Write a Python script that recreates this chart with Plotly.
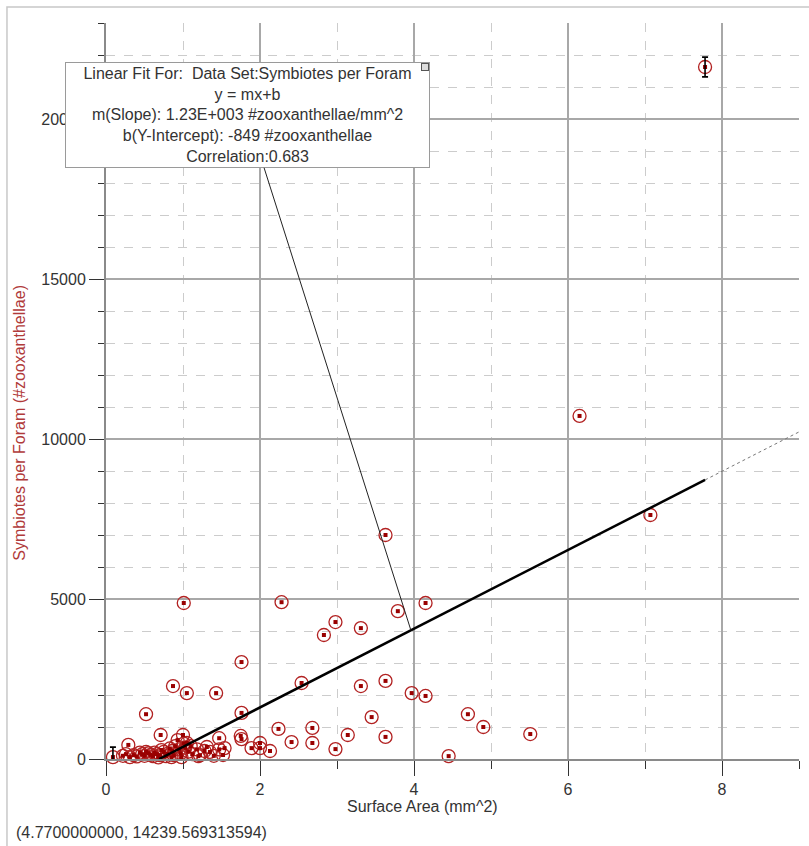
import plotly.graph_objects as go

# ---------------- data ----------------
surface_area = [
    7.78, 6.15, 7.07, 3.63, 1.01, 2.28, 3.79, 4.15, 2.98, 3.31,
    2.83, 1.76, 2.54, 3.31, 3.63, 0.87, 1.43, 1.05, 3.97, 4.15,
    3.45, 4.70, 4.90, 5.51, 4.45, 3.63, 3.14, 2.68, 2.68, 2.41,
    2.24, 2.98, 1.76, 1.75, 1.76, 0.52, 0.71, 0.29, 1.00, 0.93,
    1.05, 1.89, 2.00, 2.00, 2.13, 1.47, 1.54, 1.52, 1.31, 1.35,
    0.09, 0.22, 0.26, 0.31, 0.36, 0.40, 0.44, 0.47, 0.50, 0.52,
    0.55, 0.58, 0.61, 0.63, 0.66, 0.68, 0.70, 0.72, 0.75, 0.78,
    0.80, 0.83, 0.85, 0.86, 0.88, 0.90, 0.95, 0.97, 0.98, 1.01,
    1.03, 1.07, 1.10, 1.12, 1.18, 1.20, 1.22, 1.28, 1.40, 1.47,
]
symbiotes = [
    21625, 10720, 7625, 7000, 4875, 4900, 4620, 4875, 4280, 4090,
    3875, 3030, 2375, 2280, 2440, 2280, 2060, 2060, 2060, 1970,
    1310, 1400, 1000, 780, 90, 690, 750, 970, 500, 530,
    940, 310, 1440, 720, 620, 1400, 750, 440, 750, 590,
    500, 340, 500, 340, 250, 650, 340, 125, 375, 220,
    60, 100, 150, 60, 120, 80, 200, 150, 100, 220,
    180, 130, 90, 200, 150, 50, 120, 280, 220, 90,
    160, 330, 60, 250, 120, 400, 300, 180, 60, 480,
    350, 230, 400, 150, 300, 90, 120, 250, 100, 300,
]
slope = 1230.0
intercept = -849.0
correlation = 0.683
error_half = 310
x_axis_range = [0, 9]
y_axis_range = [0, 23000]
x_ticks = [0, 2, 4, 6, 8]
y_ticks = [0, 5000, 10000, 15000, 20000]
cursor_text = "(4.7700000000, 14239.569313594)"
fit_lines = [
    "Linear Fit For:&nbsp; Data Set:Symbiotes per Foram",
    "y = mx+b",
    "m(Slope): 1.23E+003 #zooxanthellae/mm^2",
    "b(Y-Intercept): -849 #zooxanthellae",
    "Correlation:0.683",
]
tip_x = 3.96

FONT = "Liberation Sans, Arial, sans-serif"
RED = "#b22222"
TXT = "#333333"

fig = go.Figure()

# data points: open circles + small center marks
fig.add_trace(go.Scatter(
    x=surface_area, y=symbiotes, mode="markers", cliponaxis=False,
    marker=dict(symbol="circle-open", size=13, color=RED, line=dict(width=1.3, color=RED)),
    showlegend=False))
fig.add_trace(go.Scatter(
    x=surface_area, y=symbiotes, mode="markers", cliponaxis=False,
    marker=dict(symbol="square", size=4, color="#990000", line=dict(width=0)),
    hoverinfo="skip", showlegend=False))

# fit line (solid over data range, dotted extension), drawn above the points
x_start = -intercept / slope
x_end = max(surface_area)
fig.add_trace(go.Scatter(
    x=[x_start, x_end], y=[slope * x_start + intercept, slope * x_end + intercept],
    mode="lines", line=dict(color="black", width=2.5), hoverinfo="skip", showlegend=False))
fig.add_trace(go.Scatter(
    x=[x_end, x_axis_range[1]], y=[slope * x_end + intercept, slope * x_axis_range[1] + intercept],
    mode="lines", line=dict(color="#777777", width=1, dash="dot"), hoverinfo="skip", showlegend=False))

# error bars on the extreme points
i_min = surface_area.index(min(surface_area))
i_max = surface_area.index(max(surface_area))
fig.add_trace(go.Scatter(
    x=[surface_area[i_min], surface_area[i_max]], y=[symbiotes[i_min], symbiotes[i_max]],
    mode="markers", cliponaxis=False,
    marker=dict(size=1, color="rgba(0,0,0,0)"),
    error_y=dict(type="constant", value=error_half, width=3, thickness=1.6, color="black"),
    hoverinfo="skip", showlegend=False))

axis_common = dict(
    showgrid=True, gridcolor="#a8a8a8", gridwidth=1.5,
    showline=True, linecolor="#8a8a8a", linewidth=2,
    ticks="outside", ticklen=15, tickwidth=1.3, tickcolor="#333333",
    tickfont=dict(family=FONT, size=16, color=TXT),
    zeroline=False,
)
fig.update_xaxes(range=x_axis_range, tickvals=x_ticks, tickformat="d", **axis_common,
                 minor=dict(dtick=1, tick0=0, showgrid=True, gridcolor="#cccccc",
                            griddash="dash", gridwidth=1, ticks="outside", ticklen=8,
                            tickcolor="#333333", tickwidth=1.2))
fig.update_yaxes(range=y_axis_range, tickvals=y_ticks, ticktext=[str(v) for v in y_ticks],
                 **axis_common,
                 minor=dict(dtick=1000, tick0=0, showgrid=True, gridcolor="#cccccc",
                            griddash="dash", gridwidth=1, ticks="outside", ticklen=6,
                            tickcolor="#333333", tickwidth=1.2))

annotations = []
# axis titles
annotations.append(dict(text="Surface Area (mm^2)", xref="paper", yref="paper",
                        x=0.456, y=-0.065, xanchor="center", yanchor="middle",
                        showarrow=False, font=dict(family=FONT, size=16, color=TXT)))
annotations.append(dict(text="Symbiotes per Foram (#zooxanthellae)", xref="paper", yref="paper",
                        x=-0.124, y=0.457, xanchor="center", yanchor="middle", textangle=-90,
                        showarrow=False, font=dict(family=FONT, size=16, color="#b03a3a")))
annotations.append(dict(text=cursor_text, xref="paper", yref="paper",
                        x=-0.1328, y=-0.0992, xanchor="left", yanchor="middle",
                        showarrow=False, font=dict(family=FONT, size=16, color=TXT)))
# fit info box with leader line
annotations.append(dict(text="<br>".join(fit_lines), x=tip_x, y=slope * tip_x + intercept,
                        xref="x", yref="y", showarrow=True, arrowhead=0, arrowwidth=1,
                        arrowcolor="#222222", ax=-163.5, ay=-515, standoff=0,
                        bgcolor="white", bordercolor="#9a9a9a", borderwidth=1, borderpad=0,
                        width=363, height=104, align="center", valign="middle",
                        font=dict(family=FONT, size=16, color=TXT)))
# small handle square at the box corner
annotations.append(dict(text=" ", xref="paper", yref="paper", x=0.4603, y=0.9402,
                        xanchor="center", yanchor="middle", showarrow=False,
                        width=6, height=6, borderpad=0, bgcolor="#dddddd",
                        bordercolor="#555555", borderwidth=1, font=dict(size=4)))

fig.update_layout(
    width=809, height=846, autosize=False,
    margin=dict(l=106, r=10, t=23, b=87),
    paper_bgcolor="white", plot_bgcolor="white",
    annotations=annotations,
    shapes=[dict(type="rect", xref="paper", yref="paper",
                 x0=-0.1429, x1=1.3, y0=-0.3, y1=1.0217,
                 line=dict(color="#c8c8c8", width=1.5), fillcolor="rgba(0,0,0,0)",
                 layer="below")],
)

fig.write_html("out.html")
